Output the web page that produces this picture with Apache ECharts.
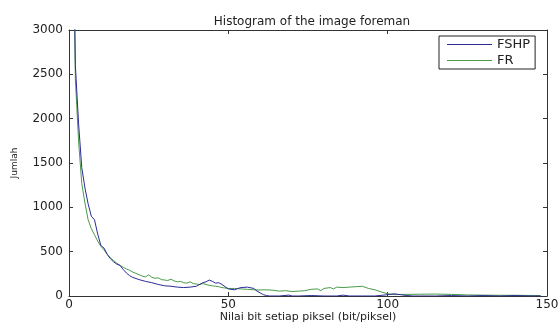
<!DOCTYPE html>
<html>
<head>
<meta charset="utf-8">
<script src="https://cdn.jsdelivr.net/npm/echarts@6/dist/echarts.min.js"></script>
<style>
  html, body { margin: 0; padding: 0; background: #fff; }
  #chart { width: 559px; height: 323px; }
</style>
</head>
<body>
<div id="chart"></div>
<script>
// data
const fshpX = [1, 2, 3, 4, 5, 6, 7, 8, 9, 10, 11, 12, 13, 14, 15, 16, 17, 18, 19, 20,
  22, 24, 26, 28, 30, 32, 34, 36, 38, 40, 42, 43, 44, 45, 46, 47, 48, 49, 50, 52,
  53, 54, 56, 58, 59, 60, 61, 62, 63, 66, 69, 70, 72, 76, 80, 84, 86, 88, 92, 96,
  100, 102, 104, 106, 108, 115, 120, 125, 130, 135, 140, 145, 148];
const fshpY = [5200, 2600, 1950, 1450, 1220, 1040, 900, 860, 700, 570, 540, 470, 420, 385, 360, 345, 300, 260, 230, 210,
  185, 165, 150, 130, 115, 110, 100, 95, 100, 110, 150, 160, 180, 165, 145, 150, 130, 105, 80, 70,
  85, 95, 100, 85, 55, 35, 15, 5, 0, 0, 10, 0, 0, 5, 0, 0, 10, 0, 0, 0,
  15, 25, 15, 5, 0, 0, 5, 0, 5, 0, 5, 0, 0];

const frX = [1, 2, 3, 4, 5, 6, 7, 8, 9, 10, 11, 12, 13, 14, 15, 16, 17, 18, 19, 20,
  21, 22, 23, 24, 25, 26, 27, 28, 29, 30, 31, 32, 33, 34, 35, 36, 37, 38, 39, 40,
  41, 42, 43, 44, 45, 46, 47, 48, 50, 52, 54, 56, 58, 60, 62, 64, 66, 68, 70, 72,
  74, 76, 78, 79, 80, 82, 83, 84, 86, 88, 90, 92, 94, 96, 98, 100, 102, 105, 110, 115,
  120, 125, 130, 135, 140, 145, 148];
const frY = [5000, 2450, 1750, 1270, 1050, 860, 760, 690, 620, 560, 520, 470, 430, 400, 370, 345, 325, 305, 290, 270,
  255, 240, 225, 215, 240, 210, 200, 205, 185, 180, 175, 190, 170, 160, 165, 150, 145, 160, 140, 135,
  130, 140, 130, 120, 115, 110, 105, 95, 85, 85, 80, 75, 70, 68, 70, 65, 55, 60, 50, 55,
  60, 75, 80, 60, 85, 95, 80, 100, 95, 100, 105, 110, 85, 70, 45, 25, 15, 18, 20, 22,
  18, 12, 10, 8, 8, 6, 5];

const seriesNames = ['FSHP', 'FR'];

const chart = echarts.init(document.getElementById('chart'));
const font = 'DejaVu Sans, sans-serif';
const axisColor = '#333';
const textColor = '#222';

const baseX = {
  type: 'value', min: 0, max: 150, interval: 50,
  axisLine: { show: true, onZero: false, lineStyle: { color: axisColor, width: 1 } },
  axisTick: { show: true, inside: true, length: 4, lineStyle: { color: axisColor } },
  splitLine: { show: false }
};
const baseY = {
  type: 'value', min: 0, max: 3000, interval: 500,
  axisLine: { show: true, onZero: false, lineStyle: { color: axisColor, width: 1 } },
  axisTick: { show: true, inside: true, length: 4, lineStyle: { color: axisColor } },
  splitLine: { show: false }
};

chart.setOption({
  animation: false,
  backgroundColor: '#fff',
  title: {
    text: 'Histogram of the image foreman',
    left: 307, top: 11, textAlign: 'center',
    textStyle: { fontFamily: font, fontSize: 12, fontWeight: 'normal', color: textColor }
  },
  legend: {
    orient: 'vertical',
    left: 439, top: 36,
    padding: [2, 5, 2, 8],
    itemGap: 3,
    itemWidth: 45, itemHeight: 1,
    icon: 'rect',
    borderColor: '#222', borderWidth: 1,
    borderRadius: 0,
    backgroundColor: '#fff',
    textStyle: { fontFamily: font, fontSize: 13, lineHeight: 13, color: textColor },
    data: seriesNames
  },
  grid: { left: 69, right: 12, top: 30, bottom: 27, outerBoundsMode: 'none' },
  xAxis: [
    Object.assign({}, baseX, {
      position: 'bottom',
      name: 'Nilai bit setiap piksel (bit/piksel)',
      nameLocation: 'middle', nameGap: 16, nameMoveOverlap: false,
      nameTextStyle: { fontFamily: font, fontSize: 11, color: textColor },
      axisLabel: { fontFamily: font, fontSize: 12, color: textColor, margin: 3, formatter: v => String(v) }
    }),
    Object.assign({}, baseX, { position: 'top', axisLabel: { show: false } })
  ],
  yAxis: [
    Object.assign({}, baseY, {
      position: 'left',
      name: 'Jumlah',
      nameLocation: 'middle', nameGap: 50, nameRotate: 90, nameMoveOverlap: false,
      nameTextStyle: { fontFamily: font, fontSize: 9, color: textColor },
      axisLabel: { fontFamily: font, fontSize: 12, color: textColor, margin: 6, formatter: v => String(v) }
    }),
    Object.assign({}, baseY, { position: 'right', axisLabel: { show: false } })
  ],
  series: [
    {
      name: seriesNames[0], type: 'line', symbol: 'none', clip: true,
      lineStyle: { color: '#2b2b96', width: 1 },
      itemStyle: { color: '#2b2b96' },
      data: fshpX.map((x, i) => [x, fshpY[i]]),
      z: 3
    },
    {
      name: seriesNames[1], type: 'line', symbol: 'none', clip: true,
      lineStyle: { color: '#4a9a4a', width: 1 },
      itemStyle: { color: '#4a9a4a' },
      data: frX.map((x, i) => [x, frY[i]]),
      z: 2
    }
  ]
});
</script>
</body>
</html>
